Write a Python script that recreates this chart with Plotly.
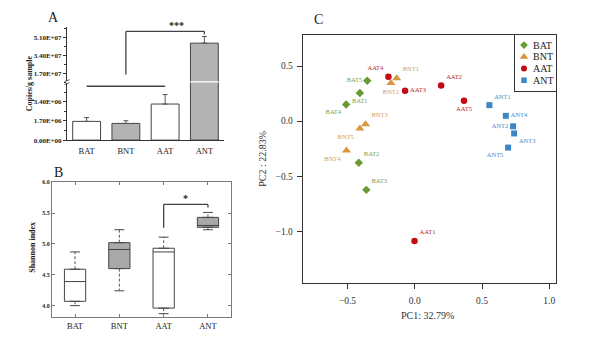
import plotly.graph_objects as go

W, H = 600, 338
def PX(x):
    return x / W
def PY(y):
    return 1 - y / H

SERIF = "Liberation Serif"
INK = "#333333"

groups = ["BAT", "BNT", "AAT", "ANT"]

# ---------------- Panel A: copies per g sample (mean + SE) ----------------
copies_mean = [1.66e6, 1.48e6, 3.20e6, 4.55e7]
copies_err = [0.34e6, 0.24e6, 0.84e6, 0.62e7]
a_low_ticks = [0, 1.7e6, 3.4e6]
a_low_ticklabels = ["0.00E+00", "1.70E+06", "3.40E+06"]
a_high_ticks = [1.7e7, 3.4e7, 5.1e7]
a_high_ticklabels = ["1.70E+07", "3.40E+07", "5.10E+07"]

# ---------------- Panel B: Shannon index box statistics ----------------
shan_min = [4.00, 4.24, 3.87, 5.23]
shan_q1 = [4.07, 4.60, 3.96, 5.27]
shan_med = [4.39, 4.91, 4.87, 5.30]
shan_q3 = [4.59, 5.02, 4.93, 5.43]
shan_max = [4.87, 5.23, 5.11, 5.51]
b_ticks = [4.0, 4.5, 5.0, 5.5, 6.0]

# ---------------- Panel C: PCA scores ----------------
bat_names = ["BAT1", "BAT2", "BAT3", "BAT4", "BAT5"]
bat_pc1 = [-0.408, -0.416, -0.360, -0.510, -0.353]
bat_pc2 = [0.255, -0.378, -0.624, 0.151, 0.367]
bnt_names = ["BNT1", "BNT2", "BNT3", "BNT4", "BNT5"]
bnt_pc1 = [-0.134, -0.177, -0.366, -0.507, -0.408]
bnt_pc2 = [0.390, 0.346, -0.029, -0.266, -0.068]
aat_names = ["AAT1", "AAT2", "AAT3", "AAT4", "AAT5"]
aat_pc1 = [-0.002, 0.196, -0.072, -0.196, 0.366]
aat_pc2 = [-1.088, 0.323, 0.275, 0.403, 0.186]
ant_names = ["ANT1", "ANT2", "ANT3", "ANT4", "ANT5"]
ant_pc1 = [0.555, 0.731, 0.739, 0.677, 0.694]
ant_pc2 = [0.145, -0.047, -0.112, 0.048, -0.240]
c_xticks = [-0.5, 0.0, 0.5, 1.0]
c_yticks = [-1.0, -0.5, 0.0, 0.5]

# ---------------- styles ----------------
bar_fill = ["#ffffff", "#b3b3b3", "#ffffff", "#b3b3b3"]
box_fill = ["#ffffff", "#a9a9a9", "#ffffff", "#a9a9a9"]
pca_style = {
    "BAT": dict(symbol="diamond", size=6.5, color="#6b9a35", text="#7d9c50"),
    "BNT": dict(symbol="triangle-up", size=8, color="#d9963c", text="#d0a060"),
    "AAT": dict(symbol="circle", size=6.5, color="#c40a12", text="#b8262c"),
    "ANT": dict(symbol="square", size=6, color="#3b86c6", text="#4a8cc8"),
}
label_pos = {
    "BAT": ["bottom center", "top right", "top right", "bottom left", "middle left"],
    "BNT": ["top right", "bottom center", "top right", "bottom left", "bottom left"],
    "AAT": ["top right", "top right", "middle right", "top left", "bottom center"],
    "ANT": ["top right", "middle left", "bottom right", "middle right", "bottom left"],
}
pca_data = {
    "BAT": (bat_names, bat_pc1, bat_pc2),
    "BNT": (bnt_names, bnt_pc1, bnt_pc2),
    "AAT": (aat_names, aat_pc1, aat_pc2),
    "ANT": (ant_names, ant_pc1, ant_pc2),
}

fig = go.Figure()

# ---- Panel A bars (broken axis: lower y and upper y2) ----
for yax in ["y", "y2"]:
    fig.add_trace(go.Bar(
        x=groups, y=copies_mean, xaxis="x", yaxis=yax, width=0.71,
        marker=dict(color=bar_fill, line=dict(color="#444444", width=1)),
        error_y=dict(type="data", symmetric=False, array=copies_err,
                     arrayminus=[0] * len(copies_err), color="#555555",
                     thickness=1, width=2.5),
        hoverinfo="skip"))

# ---- Panel B boxes ----
for i, g in enumerate(groups):
    fig.add_trace(go.Box(
        x=[g], q1=[shan_q1[i]], median=[shan_med[i]], q3=[shan_q3[i]],
        lowerfence=[shan_q1[i]], upperfence=[shan_q3[i]],
        xaxis="x3", yaxis="y3", width=0.48, fillcolor=box_fill[i],
        line=dict(color="#454545", width=1), boxpoints=False, hoverinfo="skip"))
    fig.add_trace(go.Scatter(
        x=[g, g, None, g, g], y=[shan_q3[i], shan_max[i], None, shan_q1[i], shan_min[i]],
        mode="lines", xaxis="x3", yaxis="y3",
        line=dict(color="#555555", width=1, dash="3px,2px"), hoverinfo="skip"))
    fig.add_trace(go.Scatter(
        x=[g, g], y=[shan_max[i], shan_min[i]], mode="markers", xaxis="x3", yaxis="y3",
        marker=dict(symbol="line-ew", size=7, line=dict(color="#444444", width=1)),
        hoverinfo="skip"))

# ---- Panel C PCA ----
for g in groups:
    names, pc1, pc2 = pca_data[g]
    st = pca_style[g]
    fig.add_trace(go.Scatter(
        x=pc1, y=pc2, mode="markers+text", text=names, textposition=label_pos[g],
        textfont=dict(family=SERIF, size=6.5, color=st["text"]),
        marker=dict(symbol=st["symbol"], size=st["size"], color=st["color"]),
        xaxis="x4", yaxis="y4", cliponaxis=False, hoverinfo="skip"))

# ---- Panel C legend (overlay axis) ----
for i, g in enumerate(groups):
    st = pca_style[g]
    fig.add_trace(go.Scatter(
        x=[8.7], y=[10.7 + 12 * i], mode="markers", xaxis="x5", yaxis="y5",
        marker=dict(symbol=st["symbol"], size=st["size"] - 0.5, color=st["color"]),
        hoverinfo="skip"))

tick_font_bold_a = dict(family=SERIF, size=7, color="#222222", weight="bold")
cat_font = dict(family=SERIF, size=8.5, color="#222222")

layout_axes = dict(
    xaxis=dict(domain=[PX(67), PX(224)], range=[-0.5, 3.5], anchor="y",
               showline=True, linecolor=INK, linewidth=1, ticks="",
               tickfont=cat_font, showgrid=False, zeroline=False,
               ticklabelstandoff=3),
    yaxis=dict(domain=[PY(140), PY(81.3)], range=[0, 5.1e6], anchor="x",
               tickvals=a_low_ticks, ticktext=a_low_ticklabels,
               ticks="outside", ticklen=3, tickcolor=INK, showline=True,
               linecolor=INK, linewidth=1, tickfont=tick_font_bold_a,
               showgrid=False, zeroline=False,
               minor=dict(tickmode="linear", tick0=0, dtick=0.85e6,
                          ticks="outside", ticklen=2, tickcolor=INK)),
    yaxis2=dict(domain=[PY(79.8), PY(25)], range=[1.03e7, 6.0e7], anchor="x",
                tickvals=a_high_ticks, ticktext=a_high_ticklabels,
                ticks="outside", ticklen=3, tickcolor=INK, showline=True,
                linecolor=INK, linewidth=1, tickfont=tick_font_bold_a,
                showgrid=False, zeroline=False,
                minor=dict(tickmode="linear", tick0=0, dtick=0.85e7,
                           ticks="outside", ticklen=2, tickcolor=INK)),
    xaxis3=dict(domain=[PX(52), PX(231)], range=[-0.52, 3.52], anchor="y3",
                showline=True, mirror="ticks", linecolor="#7a7a7a", linewidth=1,
                ticks="inside", ticklen=3, tickcolor="#7a7a7a",
                tickfont=cat_font, showgrid=False, zeroline=False),
    yaxis3=dict(domain=[PY(321), PY(183)], range=[3.81, 6.0], anchor="x3",
                tickvals=b_ticks, tickformat=".1f",
                showline=True, mirror="ticks", linecolor="#7a7a7a", linewidth=1,
                ticks="inside", ticklen=3, tickcolor="#7a7a7a",
                tickfont=dict(family=SERIF, size=6, color="#222222", weight="bold"),
                showgrid=False, zeroline=False),
    xaxis4=dict(domain=[PX(302.7), PX(556)], range=[-0.833, 1.05], anchor="y4",
                tickvals=c_xticks, tickformat=".1f",
                showline=True, mirror=True, linecolor=INK, linewidth=1,
                ticks="outside", ticklen=5, tickcolor=INK,
                tickfont=dict(family=SERIF, size=9.5, color="#333333"),
                showgrid=False, zeroline=False, ticklabelstandoff=4),
    yaxis4=dict(domain=[PY(286), PY(32.3)], range=[-1.47, 0.785], anchor="x4",
                tickvals=c_yticks, tickformat=".1f",
                showline=True, mirror=True, linecolor=INK, linewidth=1,
                ticks="outside", ticklen=5, tickcolor=INK,
                tickfont=dict(family=SERIF, size=9.5, color="#333333"),
                showgrid=False, zeroline=False, ticklabelstandoff=2),
    xaxis5=dict(domain=[PX(515.3), PX(556)], range=[0, 40.7], anchor="y5",
                showline=True, mirror=True, linecolor=INK, linewidth=1,
                showticklabels=False, ticks="", showgrid=False, zeroline=False),
    yaxis5=dict(domain=[PY(90), PY(32.3)], range=[57.7, 0], anchor="x5",
                showline=True, mirror=True, linecolor=INK, linewidth=1,
                showticklabels=False, ticks="", showgrid=False, zeroline=False),
)

annotations = []
def ann(text, x, y, size, xanchor="center", yanchor="middle", angle=0,
        color="#222222", bold=False, xref="paper", yref="paper"):
    annotations.append(dict(
        text=text, x=x, y=y, xref=xref, yref=yref, showarrow=False,
        xanchor=xanchor, yanchor=yanchor, textangle=angle,
        font=dict(family=SERIF, size=size, color=color,
                  weight="bold" if bold else "normal")))

# panel letters
ann("A", PX(53), PY(15), 14)
ann("B", PX(58), PY(173), 14)
ann("C", PX(318), PY(17), 14)
# axis titles
ann("Copies/g sample", PX(29), PY(82), 8, angle=-90, bold=True)
ann("Shannon index", PX(33), PY(250), 8, angle=-90, bold=True)
ann("PC2 : 22.83%", PX(263), PY(159), 10, angle=-90, color="#333333")
ann("PC1: 32.79%", PX(427), PY(319), 10, color="#333333")
# significance
ann("***", 2.3, PY(22.5), 10, xref="x", bold=True)
ann("*", 2.5, 5.74, 10, xref="x3", yref="y3", bold=True)
# legend text
for i, g in enumerate(groups):
    ann(g, 15.5, 10.7 + 12 * i, 10, xanchor="left", xref="x5", yref="y5",
        color="#222222")

shapes = []
def seg(x0, y0, x1, y1, xref, yref, color="#444444", width=1.3):
    shapes.append(dict(type="line", x0=x0, y0=y0, x1=x1, y1=y1, xref=xref,
                       yref=yref, line=dict(color=color, width=width)))

# Panel A brackets (x in category index)
seg(0, PY(85), 2, PY(85), "x", "paper")
seg(1, PY(73), 1, PY(29), "x", "paper")
seg(1, PY(29), 3, PY(29), "x", "paper")
seg(3, PY(29), 3, PY(32), "x", "paper")
# axis break marks on panel A y-axis
seg(PX(64.5), PY(80.3), PX(69.5), PY(78.3), "paper", "paper", color=INK, width=0.8)
seg(PX(64.5), PY(83.3), PX(69.5), PY(81.3), "paper", "paper", color=INK, width=0.8)
# Panel B bracket
seg(2, 5.26, 2, 5.64, "x3", "y3")
seg(2, 5.64, 3, 5.64, "x3", "y3")
seg(3, 5.64, 3, 5.59, "x3", "y3")

fig.update_layout(
    width=W, height=H, margin=dict(l=0, r=0, t=0, b=0),
    paper_bgcolor="white", plot_bgcolor="white", showlegend=False,
    hovermode=False, annotations=annotations, shapes=shapes, **layout_axes)

fig.write_html("out.html")
